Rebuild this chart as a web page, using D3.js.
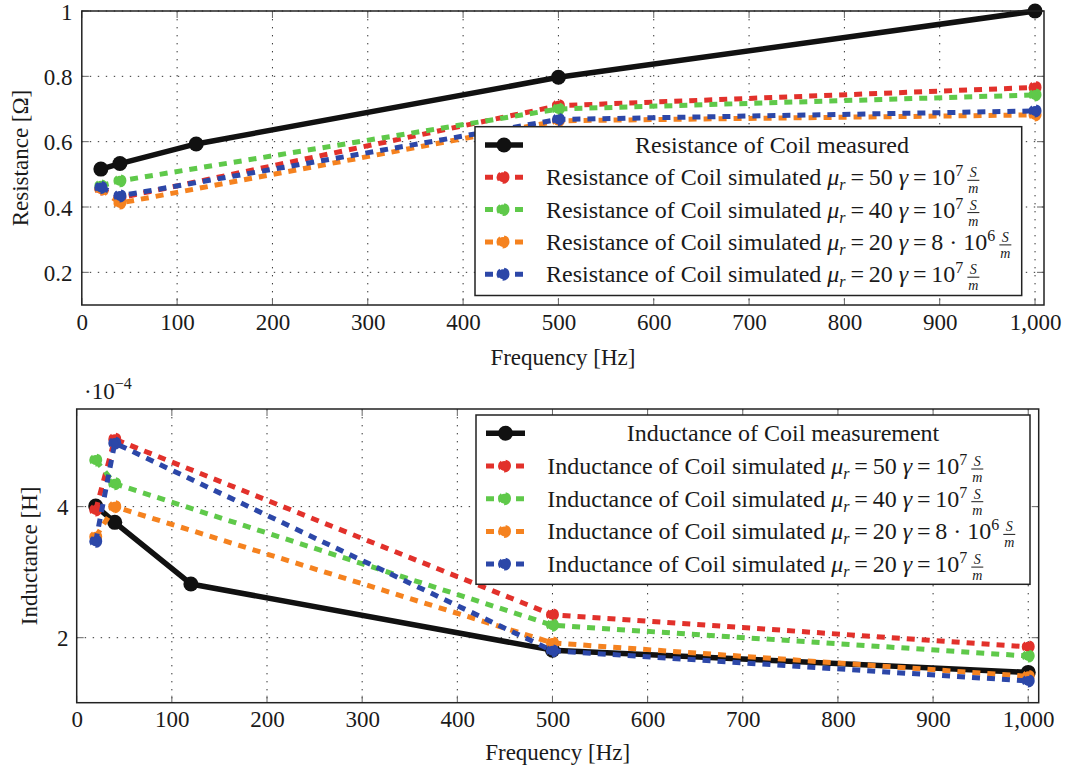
<!DOCTYPE html>
<html>
<head>
<meta charset="utf-8">
<script src="https://cdn.jsdelivr.net/npm/d3@7"></script>
<style>
  body { margin: 0; background: #fff; }
  svg text { font-family: "Liberation Serif", "Times New Roman", serif; fill: #1a1a1a; }
</style>
</head>
<body>
<svg id="chart" width="1067" height="773"></svg>
<script>
// ---- Data -------------------------------------------------------------
const freqMeasured = [20, 40, 120, 500, 1000];
const freqSimulated = [20, 40, 500, 1000];
const freqTicks = [0, 100, 200, 300, 400, 500, 600, 700, 800, 900, 1000];

// Resistance [Ω]
const resMeasured     = [0.516, 0.533, 0.593, 0.797, 1.0];
const resMu50         = [0.455, 0.428, 0.710, 0.766];
const resMu40         = [0.465, 0.480, 0.700, 0.743];
const resMu20Gamma8e6 = [0.455, 0.412, 0.664, 0.682];
const resMu20         = [0.460, 0.434, 0.668, 0.694];
const resTicks = [0.2, 0.4, 0.6, 0.8, 1];

// Inductance [H], in units of 1e-4
const indMeasured     = [4.01, 3.76, 2.82, 1.81, 1.47];
const indMu50         = [3.95, 5.03, 2.35, 1.86];
const indMu40         = [4.71, 4.35, 2.19, 1.72];
const indMu20Gamma8e6 = [3.54, 4.00, 1.92, 1.41];
const indMu20         = [3.47, 4.97, 1.80, 1.34];
const indTicks = [2, 4];

// Simulation parameter sets: μr, γ coefficient text, γ exponent
const simParams = [
  { mu: "50", coef: "", exp: "7" },
  { mu: "40", coef: "", exp: "7" },
  { mu: "20", coef: "8 · ", exp: "6" },
  { mu: "20", coef: "", exp: "7" }
];
const simColors = ["#e2312b", "#5fc94a", "#f5821f", "#2c47a8"];

// ---- Drawing ----------------------------------------------------------
const svg = d3.select("#chart");
const SERIF = '"Liberation Serif", "Times New Roman", serif';
const FONT = 23;
const LEGEND_FONT = 24;

function drawPanel(cfg) {
  const x = d3.scaleLinear().domain(cfg.xDomain).range([cfg.left, cfg.right]);
  const y = d3.scaleLinear().domain(cfg.yDomain).range([cfg.bottom, cfg.top]);
  const g = svg.append("g");

  // dotted grid
  const grid = g.append("g").attr("stroke", "#333").attr("stroke-width", 1)
    .attr("stroke-dasharray", "1.4,6.6");
  freqTicks.filter(d => d > 0).forEach(d => {
    grid.append("line").attr("x1", x(d)).attr("x2", x(d))
      .attr("y1", cfg.top).attr("y2", cfg.bottom);
  });
  cfg.yTicks.forEach(d => {
    grid.append("line").attr("x1", cfg.left).attr("x2", cfg.right)
      .attr("y1", y(d)).attr("y2", y(d));
  });

  // inner tick marks on all four sides
  const tl = 7;
  const ticks = g.append("g").attr("stroke", "#666").attr("stroke-width", 1);
  freqTicks.forEach(d => {
    ticks.append("line").attr("x1", x(d)).attr("x2", x(d)).attr("y1", cfg.bottom).attr("y2", cfg.bottom - tl);
    ticks.append("line").attr("x1", x(d)).attr("x2", x(d)).attr("y1", cfg.top).attr("y2", cfg.top + tl);
  });
  cfg.yTicks.forEach(d => {
    ticks.append("line").attr("x1", cfg.left).attr("x2", cfg.left + tl).attr("y1", y(d)).attr("y2", y(d));
    ticks.append("line").attr("x1", cfg.right).attr("x2", cfg.right - tl).attr("y1", y(d)).attr("y2", y(d));
  });

  // tick labels via d3 axes (domain and tick lines hidden)
  const xAxis = d3.axisBottom(x).tickValues(freqTicks).tickSize(0).tickPadding(0)
    .tickFormat(d => d >= 1000 ? d3.format(",")(d) : d);
  g.append("g").attr("transform", `translate(0,${cfg.xLabelBaseline})`).call(xAxis)
    .attr("font-family", null)
    .call(a => a.select(".domain").remove())
    .selectAll("text").attr("dy", 0).attr("y", 0);
  const yAxis = d3.axisLeft(y).tickValues(cfg.yTicks).tickSize(0).tickPadding(0)
    .tickFormat(d => String(d));
  g.append("g").attr("transform", `translate(${cfg.yLabelRight},0)`).call(yAxis)
    .attr("font-family", null)
    .call(a => a.select(".domain").remove())
    .selectAll("text").attr("dy", 8).attr("x", 0);
  g.selectAll(".tick text").attr("fill", "#1a1a1a")
    .style("font-family", SERIF).style("font-size", FONT + "px");

  const plot = g.append("g");
  const line = d3.line().x(d => x(d[0])).y(d => y(d[1]));

  // measured series: thick solid black line with round markers
  const mPts = freqMeasured.map((f, i) => [f, cfg.measured[i]]);
  plot.append("path").attr("d", line(mPts)).attr("fill", "none")
    .attr("stroke", "#111").attr("stroke-width", 5.5).attr("stroke-linejoin", "round");
  plot.selectAll(".mpt").data(mPts).join("circle")
    .attr("cx", d => x(d[0])).attr("cy", d => y(d[1])).attr("r", 7.5).attr("fill", "#111");

  // simulated series: dashed coloured lines with dashed markers
  cfg.simulated.forEach((vals, k) => {
    const pts = freqSimulated.map((f, i) => [f, vals[i]]);
    plot.append("path").attr("d", line(pts)).attr("fill", "none")
      .attr("stroke", simColors[k]).attr("stroke-width", 5)
      .attr("stroke-dasharray", "8,7");
    plot.selectAll(".spt" + k).data(pts).join("circle")
      .attr("cx", d => x(d[0])).attr("cy", d => y(d[1])).attr("r", 5)
      .attr("fill", simColors[k]).attr("stroke", simColors[k])
      .attr("stroke-width", 3).attr("stroke-dasharray", "8,4");
  });

  // axis frame
  g.append("rect").attr("x", cfg.left).attr("y", cfg.top)
    .attr("width", cfg.right - cfg.left).attr("height", cfg.bottom - cfg.top)
    .attr("fill", "none").attr("stroke", "#222").attr("stroke-width", 1.5);

  // axis titles
  g.append("text").attr("x", (cfg.left + cfg.right) / 2).attr("y", cfg.xTitleBaseline)
    .attr("text-anchor", "middle").style("font-size", FONT + "px").text("Frequency [Hz]");
  g.append("text").attr("transform", `translate(${cfg.yTitleBaseline},${(cfg.top + cfg.bottom) / 2}) rotate(-90)`)
    .attr("text-anchor", "middle").style("font-size", FONT + "px").text(cfg.yTitle);

  // legend
  const L = cfg.legend;
  const lg = g.append("g");
  lg.append("rect").attr("x", L.x0).attr("y", L.y0).attr("width", L.x1 - L.x0).attr("height", L.y1 - L.y0)
    .attr("fill", "#fff").attr("stroke", "#222").attr("stroke-width", 1.5);
  const rowY = i => L.row0 + i * L.rowStep;
  // measured entry
  lg.append("line").attr("x1", L.sx0).attr("x2", L.sx1).attr("y1", rowY(0)).attr("y2", rowY(0))
    .attr("stroke", "#111").attr("stroke-width", 5.5);
  lg.append("circle").attr("cx", (L.sx0 + L.sx1) / 2).attr("cy", rowY(0)).attr("r", 7.5).attr("fill", "#111");
  lg.append("text").attr("x", L.firstCenter).attr("y", rowY(0) + 8)
    .attr("text-anchor", "middle").style("font-size", LEGEND_FONT + "px").text(cfg.measuredLabel);
  // simulated entries
  simParams.forEach((p, k) => {
    const yy = rowY(k + 1);
    lg.append("line").attr("x1", L.sx0).attr("x2", L.sx1).attr("y1", yy).attr("y2", yy)
      .attr("stroke", simColors[k]).attr("stroke-width", 5).attr("stroke-dasharray", "8,7");
    lg.append("circle").attr("cx", (L.sx0 + L.sx1) / 2 - 1).attr("cy", yy).attr("r", 5)
      .attr("fill", simColors[k]).attr("stroke", simColors[k]).attr("stroke-width", 3)
      .attr("stroke-dasharray", "8,4");
    mathLabel(lg, L.tx, yy + 8, cfg.simLabel, p);
  });
}

// "<prefix> μr = 50 γ = 10^7 S/m" typeset with tspans, unit as a small stacked fraction
function mathLabel(g, x, y, prefix, p) {
  const t = g.append("text").attr("x", x).attr("y", y).style("font-size", LEGEND_FONT + "px");
  t.append("tspan").text(prefix + " ");
  t.append("tspan").attr("font-style", "italic").text("μ");
  t.append("tspan").attr("font-style", "italic").style("font-size", "16px").attr("dy", 5).text("r");
  t.append("tspan").attr("dy", -5).text("\u2009=\u2009" + p.mu + " ");
  t.append("tspan").attr("font-style", "italic").text("γ");
  t.append("tspan").text("\u2009=\u2009" + p.coef + "10");
  t.append("tspan").style("font-size", "16px").attr("dy", -9).text(p.exp);
  const w = t.node().getComputedTextLength();
  const fx = x + w + 4, fw = 12;
  const frac = g.append("g").attr("font-style", "italic").attr("text-anchor", "middle");
  frac.append("text").attr("x", fx + fw / 2).attr("y", y - 8).style("font-size", "14px").text("S");
  frac.append("text").attr("x", fx + fw / 2).attr("y", y + 8).style("font-size", "14px").text("m");
  g.append("line").attr("x1", fx).attr("x2", fx + fw).attr("y1", y - 5).attr("y2", y - 5)
    .attr("stroke", "#1a1a1a").attr("stroke-width", 1);
}

// Resistance panel
drawPanel({
  id: "res", left: 81.8, right: 1044, top: 11, bottom: 305,
  xDomain: [0, 1009.4], yDomain: [0.1, 1], yTicks: resTicks,
  measured: resMeasured,
  simulated: [resMu50, resMu40, resMu20Gamma8e6, resMu20],
  xLabelBaseline: 330, yLabelRight: 72.5, xTitleBaseline: 365, yTitleBaseline: 28,
  yTitle: "Resistance [Ω]",
  measuredLabel: "Resistance of Coil measured",
  simLabel: "Resistance of Coil simulated",
  legend: { x0: 475, x1: 1021.7, y0: 126.7, y1: 295.5, row0: 145, rowStep: 32.3,
            sx0: 485, sx1: 523, tx: 546, firstCenter: 772 }
});

// Inductance panel
drawPanel({
  id: "ind", left: 76.7, right: 1038.7, top: 409, bottom: 702.7,
  xDomain: [0, 1011], yDomain: [1.008, 5.49], yTicks: indTicks,
  measured: indMeasured,
  simulated: [indMu50, indMu40, indMu20Gamma8e6, indMu20],
  xLabelBaseline: 727, yLabelRight: 68.5, xTitleBaseline: 760, yTitleBaseline: 37,
  yTitle: "Inductance [H]",
  measuredLabel: "Inductance of Coil measurement",
  simLabel: "Inductance of Coil simulated",
  legend: { x0: 476, x1: 1030, y0: 415, y1: 584.3, row0: 433.3, rowStep: 32.7,
            sx0: 486, sx1: 525, tx: 547.3, firstCenter: 783 }
});

// scale factor of the inductance axis
const sf = svg.append("text").attr("x", 84).attr("y", 398.5).style("font-size", FONT + "px");
sf.append("tspan").text("·10");
sf.append("tspan").style("font-size", "16px").attr("dy", -10).text("−4");
</script>
</body>
</html>
